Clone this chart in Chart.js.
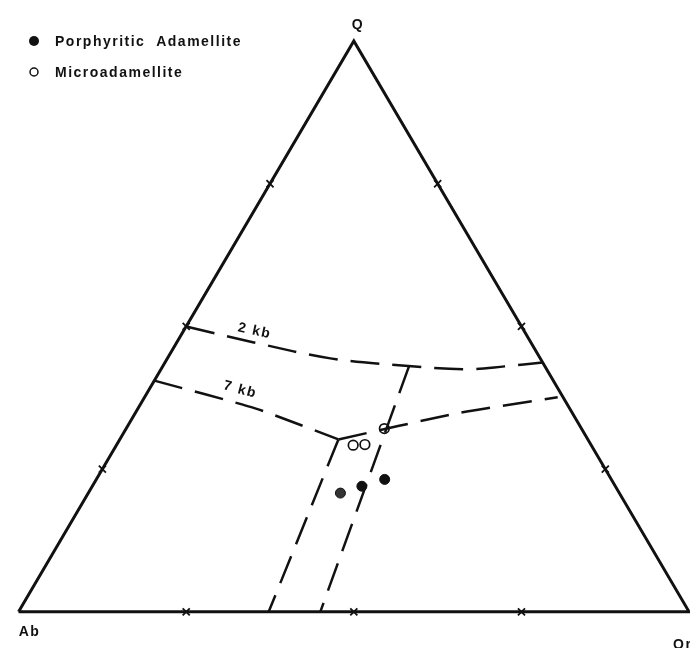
<!DOCTYPE html>
<html>
<head>
<meta charset="utf-8">
<script src="https://cdn.jsdelivr.net/npm/chart.js@4/dist/chart.umd.min.js"></script>
<style>
  html, body { margin: 0; padding: 0; background: #fff; }
  #wrap { width: 690px; height: 648px; position: relative; }
</style>
</head>
<body>
<div id="wrap"><canvas id="qabor"></canvas></div>
<script>
// Q-Ab-Or ternary, values in % (Q, Or); Ab = 100 - Q - Or
const tickPercents = [25, 50, 75];

// 2 kb minimum curve
const kb2Q  = [50.0, 47.2, 44.4, 43.2, 42.5, 43.0, 43.7];
const kb2Or = [0.0, 11.5, 24.3, 35.1, 45.4, 51.0, 56.3];

// 7 kb minimum line
const kb7Q  = [40.5, 35.6, 30.2];
const kb7Or = [0.0, 17.6, 32.6];

// cotectic running to Q-Or side from 7 kb point
const eastQ  = [30.2, 34.8, 37.6];
const eastOr = [32.6, 48.1, 61.6];

// two fields running down to Ab-Or side
const westLegQ  = [30.2, 0.0];
const westLegOr = [32.6, 37.3];
const eastLegQ  = [43.1, 0.0];
const eastLegOr = [36.7, 45.0];

// samples
const porphQ  = [20.8, 22.0, 23.2];
const porphOr = [37.6, 40.2, 43.0];
const microQ  = [32.1, 29.2, 29.3];
const microOr = [38.5, 35.3, 37.0];

const tern = (q, or) => ({ x: or + q / 2, y: q });
const series = (qs, ors) => qs.map((q, i) => tern(q, ors[i]));

const triangle = [tern(0, 0), tern(0, 100), tern(100, 0), tern(0, 0)];
const ticks = [];
tickPercents.forEach(p => {
  ticks.push(tern(0, p));        // Ab-Or base
  ticks.push(tern(p, 0));        // Ab-Q side
  ticks.push(tern(p, 100 - p));  // Q-Or side
});

const dash = [29, 13];
const lineDs = (data, extra) => Object.assign({
  type: 'line', data, borderColor: '#111', borderWidth: 2.5,
  borderDash: dash, pointRadius: 0, fill: false, tension: 0
}, extra || {});

// text labels (anchored in ternary coords)
const labels = [
  { text: '2 kb', q: 49.2, or: 10.6, angle: 12 },
  { text: '7 kb', q: 38.9, or: 13.6, angle: 15 }
];

const annotate = {
  id: 'annotate',
  afterDraw(chart) {
    const { ctx, scales } = chart;
    const px = p => [scales.x.getPixelForValue(p.x), scales.y.getPixelForValue(p.y)];
    ctx.save();
    ctx.fillStyle = '#111';
    ctx.strokeStyle = '#111';
    ctx.font = 'bold 14px "Liberation Sans", Arial, sans-serif';
    ctx.letterSpacing = '1.5px';
    ctx.textBaseline = 'middle';

    labels.forEach(l => {
      const [x, y] = px(tern(l.q, l.or));
      ctx.save();
      ctx.translate(x, y);
      ctx.rotate(l.angle * Math.PI / 180);
      ctx.textAlign = 'center';
      ctx.fillText(l.text, 0, 0);
      ctx.restore();
    });

    // vertex names
    const [qx, qy] = px(tern(100, 0));
    const [ax, ay] = px(tern(0, 0));
    const [ox, oy] = px(tern(0, 100));
    ctx.textAlign = 'center';
    ctx.fillText('Q', qx + 4, qy - 16);
    ctx.fillText('Ab', ax + 11, ay + 20);
    ctx.textAlign = 'left';
    ctx.fillText('Or', ox - 16, oy + 33);

    // legend
    ctx.beginPath();
    ctx.arc(34, 41, 5, 0, Math.PI * 2);
    ctx.fill();
    ctx.fillText('Porphyritic  Adamellite', 55, 42);
    ctx.beginPath();
    ctx.lineWidth = 1.5;
    ctx.arc(34, 72, 4, 0, Math.PI * 2);
    ctx.stroke();
    ctx.fillText('Microadamellite', 55, 73);
    ctx.restore();
  }
};

new Chart(document.getElementById('qabor'), {
  type: 'scatter',
  data: {
    datasets: [
      { type: 'line', data: triangle, borderColor: '#111', borderWidth: 3,
        pointRadius: 0, fill: false, tension: 0 },
      { data: ticks, pointStyle: 'crossRot', pointRadius: 5,
        borderColor: '#111', borderWidth: 1.8 },
      lineDs(series(kb2Q, kb2Or), { tension: 0.35 }),
      lineDs(series(kb7Q, kb7Or), { tension: 0.2 }),
      lineDs(series(eastQ, eastOr), { tension: 0.2 }),
      lineDs(series(westLegQ, westLegOr)),
      lineDs(series(eastLegQ, eastLegOr)),
      { label: 'Microadamellite', data: series(microQ, microOr), pointStyle: 'circle',
        pointRadius: 4.8, backgroundColor: '#fff', borderColor: '#111', borderWidth: 1.7 },
      { label: 'Porphyritic Adamellite', data: series(porphQ, porphOr), pointStyle: 'circle',
        pointRadius: 5, backgroundColor: ['#333', '#111', '#111'], borderColor: '#111', borderWidth: 1 }
    ]
  },
  options: {
    responsive: true,
    maintainAspectRatio: false,
    animation: false,
    layout: { padding: 0 },
    clip: false,
    scales: {
      x: { type: 'linear', display: false, min: -1.754, max: 99.12 },
      y: { type: 'linear', display: false, min: -5.15, max: 106.0 }
    },
    plugins: {
      legend: { display: false },
      tooltip: { enabled: false }
    }
  },
  plugins: [annotate]
});
</script>
</body>
</html>
